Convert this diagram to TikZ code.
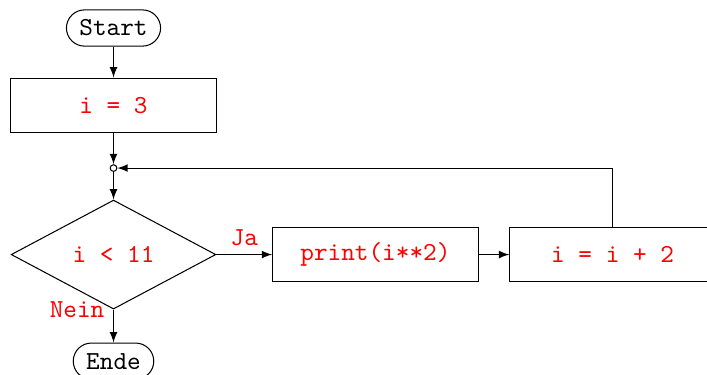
\documentclass[tikz,border=0pt]{standalone}
\usepackage{tikz}
\usetikzlibrary{positioning,shapes.geometric}

\begin{document}
\begin{tikzpicture}[
  term/.style = {draw, shape = rectangle, rounded corners = 2.45mm, minimum height = 0.49cm, inner xsep = 5pt, font = \ttfamily},
  box/.style = {draw, shape = rectangle, minimum width = 2.78cm, minimum height = 0.73cm, font = \ttfamily, text = red},
  decision/.style = {draw, shape = diamond, aspect = 1.88, inner sep = 0pt, minimum width = 2.77cm, minimum height = 1.475cm, font = \ttfamily, text = red},
  joint/.style = {draw, shape = circle, fill = white, inner sep = 0pt, minimum size = 0.09cm},
  lbl/.style = {font = \ttfamily, text = red},
  >=latex]
\useasboundingbox (0,0) rectangle (9.567,-5.061);
\node[term] (start) at (1.536,-0.379) {Start};
\node[box, below = 0.419cm of start] (init) {i = 3};
\node[joint, below = 0.428cm of init] (jn) {};
\node[decision, below = 0.374cm of jn] (cond) {i < 11};
\node[term, below = 0.446cm of cond] (ende) {Ende};
\node[box, right = 0.755cm of cond] (body) {print(i**2)};
\node[box, right = 0.415cm of body] (incr) {i = i + 2};
\draw[->] (start) -- (init);
\draw[->] (init) -- (jn);
\draw[->] (jn) -- (cond);
\draw[->] (cond) -- node[lbl, above] {Ja} (body);
\draw[->] (body) -- (incr);
\draw[->] (incr.north) |- (jn);
\draw[->] (cond.south) -- node[lbl, pos = 0, left] {Nein} (ende);
\end{tikzpicture}
\end{document}
